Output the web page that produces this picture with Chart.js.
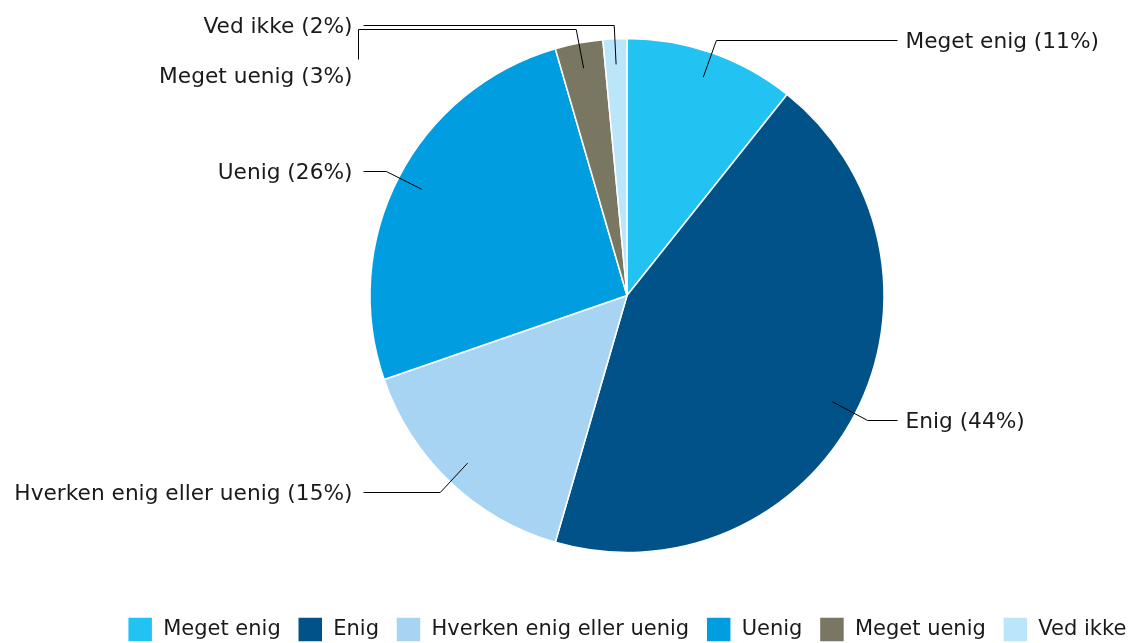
<!DOCTYPE html>
<html>
<head>
<meta charset="utf-8">
<script src="https://cdn.jsdelivr.net/npm/chart.js@4/dist/chart.umd.min.js"></script>
<style>
  html, body { margin: 0; padding: 0; background: #fff; overflow: hidden; }
  #wrap { width: 1147px; height: 672px; margin-top: -20px; position: relative; }
</style>
</head>
<body>
<div id="wrap"><canvas id="pie"></canvas></div>
<script>
// svar-kategorier og andele
const categories = ['Meget enig', 'Enig', 'Hverken enig eller uenig', 'Uenig', 'Meget uenig', 'Ved ikke'];
const shares = [10.7, 43.8, 15.2, 25.8, 3.0, 1.5];
const colors = ['#22C3F3', '#005288', '#A8D4F4', '#009EE0', '#797762', '#BBE5F9'];

const total = shares.reduce((a, b) => a + b, 0);
const pctLabels = shares.map((v, i) => categories[i] + ' (' + Math.round(v / total * 100) + '%)');

Chart.defaults.font.family = 'DejaVu Sans';
Chart.defaults.font.size = 21;
Chart.defaults.color = '#1a1a1a';

// labels udenfor lagkagen med forbindelseslinjer
const pieLabels = {
  id: 'pieLabels',
  afterDatasetsDraw(chart) {
    const ctx = chart.ctx;
    const meta = chart.getDatasetMeta(0);
    const items = meta.data.map((arc, i) => {
      const mid = (arc.startAngle + arc.endAngle) / 2;
      const R = arc.outerRadius;
      const c = Math.cos(mid), s = Math.sin(mid);
      return {
        i: i,
        right: c >= 0,
        sx: arc.x + c * R * 0.9, sy: arc.y + s * R * 0.9,
        bx: arc.x + c * (R + 14), by: Math.round(arc.y + s * (R + 14)) + 0.5,
        endX: Math.round(c >= 0 ? arc.x + R + 13 : arc.x - R - 7) + 0.5,
      };
    });

    // skub overlappende labels ned
    [true, false].forEach(side => {
      let prev = -Infinity;
      items.filter(it => it.right === side)
        .sort((a, b) => a.by - b.by)
        .forEach(it => {
          it.ly = Math.max(it.by, prev + 50);
          prev = it.ly;
        });
    });

    ctx.save();
    ctx.strokeStyle = '#000';
    ctx.lineWidth = 1;
    ctx.font = '21.7px "DejaVu Sans"';
    ctx.fillStyle = '#1a1a1a';
    ctx.textBaseline = 'middle';
    items.forEach(it => {
      ctx.beginPath();
      ctx.moveTo(it.sx, it.sy);
      ctx.lineTo(it.bx, it.by);
      if (it.ly === it.by) {
        ctx.lineTo(it.endX, it.by);
      } else {
        const x2 = it.right ? it.endX + 5 : it.endX - 5;
        ctx.lineTo(x2, it.by);
        ctx.lineTo(x2, it.ly - 16);
      }
      ctx.stroke();
      const tx = it.right ? it.endX + 8 : it.endX - 11;
      ctx.textAlign = it.right ? 'left' : 'right';
      ctx.fillText(pctLabels[it.i], tx, it.ly + 2);
    });
    ctx.restore();
  }
};

new Chart(document.getElementById('pie'), {
  type: 'pie',
  data: {
    labels: categories,
    datasets: [{
      data: shares,
      backgroundColor: colors,
      borderColor: '#ffffff',
      borderWidth: 1.5,
    }],
  },
  options: {
    responsive: true,
    maintainAspectRatio: false,
    animation: false,
    radius: 257,
    layout: {
      padding: { top: 11, left: 107, right: 0, bottom: 0 },
    },
    plugins: {
      tooltip: { enabled: false },
      legend: {
        position: 'bottom',
        labels: {
          boxWidth: 25,
          boxHeight: 25,
          padding: 17,
          color: '#1a1a1a',
          font: { size: 21 },
        },
      },
    },
  },
  plugins: [pieLabels],
});
</script>
</body>
</html>
